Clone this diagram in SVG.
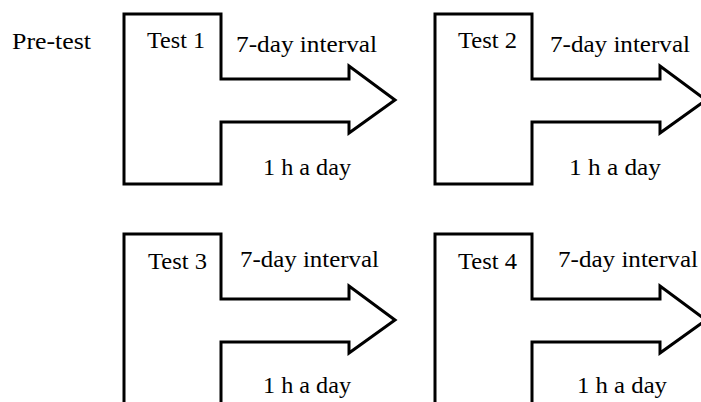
<svg xmlns="http://www.w3.org/2000/svg" width="701" height="402" viewBox="0 0 701 402">
<defs>
<path id="arrowShape" d="M0,0 L97,0 L97,65 L225,65 L225,52 L271,86 L225,119 L225,108 L97,108 L97,170 L0,170 Z" fill="none" stroke="#000" stroke-width="3"/>
</defs>
<rect width="701" height="402" fill="#fff"/>
<g font-family="Liberation Serif, Times New Roman, serif" font-size="23.5" fill="#000">
<text id="pretest" x="12" y="49" textLength="79" lengthAdjust="spacingAndGlyphs">Pre-test</text>
<g id="test1">
<use href="#arrowShape" x="124" y="14"/>
<text x="147" y="48" textLength="58" lengthAdjust="spacingAndGlyphs">Test 1</text>
<text x="236" y="52" textLength="141" lengthAdjust="spacingAndGlyphs">7-day interval</text>
<text x="263" y="175" textLength="88" lengthAdjust="spacingAndGlyphs">1 h a day</text>
</g>
<g id="test2">
<use href="#arrowShape" x="435" y="14"/>
<text x="458" y="48" textLength="59" lengthAdjust="spacingAndGlyphs">Test 2</text>
<text x="550" y="52" textLength="140" lengthAdjust="spacingAndGlyphs">7-day interval</text>
<text x="569" y="175" textLength="92" lengthAdjust="spacingAndGlyphs">1 h a day</text>
</g>
<g id="test3">
<use href="#arrowShape" x="124" y="234"/>
<text x="148" y="269" textLength="59" lengthAdjust="spacingAndGlyphs">Test 3</text>
<text x="240" y="267" textLength="139" lengthAdjust="spacingAndGlyphs">7-day interval</text>
<text x="263" y="393" textLength="88" lengthAdjust="spacingAndGlyphs">1 h a day</text>
</g>
<g id="test4">
<use href="#arrowShape" x="435" y="234"/>
<text x="458" y="269" textLength="59" lengthAdjust="spacingAndGlyphs">Test 4</text>
<text x="558" y="267" textLength="140" lengthAdjust="spacingAndGlyphs">7-day interval</text>
<text x="577" y="393" textLength="90" lengthAdjust="spacingAndGlyphs">1 h a day</text>
</g>
</g>
<g id="connectors"/>
</svg>
